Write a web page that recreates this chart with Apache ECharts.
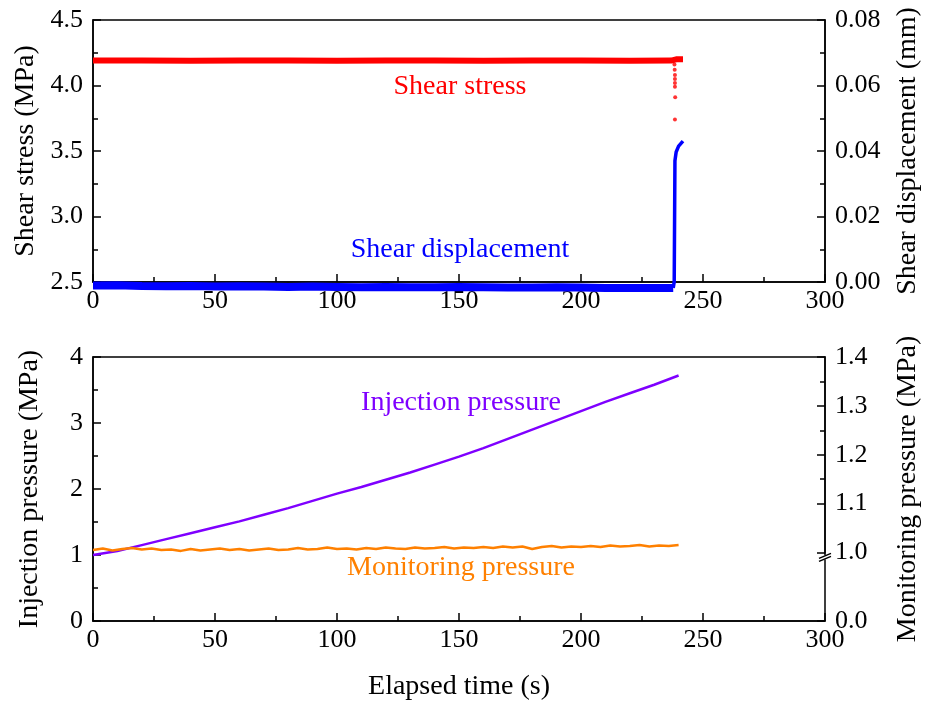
<!DOCTYPE html>
<html>
<head>
<meta charset="utf-8">
<script src="https://cdn.jsdelivr.net/npm/echarts@6/dist/echarts.min.js"></script>
<style>
  html, body { margin: 0; padding: 0; background: #fff; }
  #chart { width: 926px; height: 708px; }
</style>
</head>
<body>
<div id="chart"></div>
<script>
// shear stress (MPa) vs time (s)
var stressTime = [0, 20, 40, 60, 80, 100, 120, 140, 160, 180, 200, 220, 237, 239, 241.8]
var stressVals = [4.19, 4.19, 4.188, 4.19, 4.19, 4.188, 4.19, 4.19, 4.188, 4.19, 4.19, 4.188, 4.19, 4.2, 4.2]
// scattered points during the slip
var dropTime = [238.3, 238.4, 238.5, 238.5, 238.5, 238.5, 238.6, 238.5]
var dropVals = [4.16, 4.12, 4.08, 4.05, 4.02, 3.99, 3.91, 3.74]
// shear displacement (mm), before slip
var dispTime = [0, 10, 20, 30, 40, 50, 60, 70, 80, 90, 100, 110, 120, 130, 140, 150, 160, 170, 180, 190, 200, 210, 220, 230, 237.8]
var dispVals = [-0.0011, -0.0010, -0.0012, -0.0013, -0.0012, -0.0014, -0.0013, -0.0014, -0.0015, -0.0014, -0.0015, -0.0016, -0.0015, -0.0016, -0.0016, -0.0015, -0.0016, -0.0017, -0.0017, -0.0016, -0.0017, -0.0018, -0.0018, -0.0018, -0.0018]
// shear displacement (mm), slip jump
var jumpTime = [237.8, 238.2, 238.5, 239, 240, 241.8]
var jumpVals = [-0.0018, 0.0, 0.037, 0.0397, 0.0415, 0.0430]
// injection pressure (MPa)
var injTime = [0, 10, 20, 30, 40, 50, 60, 70, 80, 90, 100, 110, 120, 130, 140, 150, 160, 170, 180, 190, 200, 210, 220, 230, 240]
var injVals = [1.00, 1.06, 1.15, 1.24, 1.33, 1.42, 1.51, 1.61, 1.71, 1.82, 1.93, 2.03, 2.14, 2.25, 2.37, 2.49, 2.62, 2.76, 2.90, 3.04, 3.18, 3.32, 3.45, 3.58, 3.72]
// monitoring pressure (MPa), every 4 s
var monTime = [0, 4, 8, 12, 16, 20, 24, 28, 32, 36, 40, 44, 48, 52, 56, 60, 64, 68, 72, 76, 80, 84, 88, 92, 96, 100, 104, 108, 112, 116, 120, 124, 128, 132, 136, 140, 144, 148, 152, 156, 160, 164, 168, 172, 176, 180, 184, 188, 192, 196, 200, 204, 208, 212, 216, 220, 224, 228, 232, 236, 240]
var monVals = [1.005, 1.008, 1.004, 1.007, 1.009, 1.006, 1.008, 1.005, 1.006, 1.003, 1.007, 1.004, 1.006, 1.008, 1.005, 1.007, 1.004, 1.006, 1.008, 1.005, 1.006, 1.009, 1.006, 1.007, 1.010, 1.007, 1.008, 1.006, 1.009, 1.007, 1.010, 1.008, 1.007, 1.010, 1.008, 1.009, 1.011, 1.008, 1.010, 1.009, 1.011, 1.009, 1.012, 1.010, 1.012, 1.007, 1.011, 1.013, 1.010, 1.012, 1.011, 1.013, 1.011, 1.014, 1.012, 1.013, 1.015, 1.012, 1.014, 1.013, 1.015]

function pairs(xs, ys) {
  return xs.map(function (x, i) { return [x, ys[i]] })
}

var FONT = 'Liberation Serif'
var RED = '#ff0000', BLUE = '#0000ff', PURPLE = '#7f00ff', ORANGE = '#ff8000'
var TICK = 26, TITLE = 28

var chart = echarts.init(document.getElementById('chart'))

function xAxis(grid) {
  return {
    type: 'value', gridIndex: grid, min: 0, max: 300, interval: 50,
    axisLine: { lineStyle: { color: '#000', width: 1.5 } },
    axisTick: { inside: true, length: 8, lineStyle: { width: 1.5 } },
    minorTick: { show: true, splitNumber: 2, length: 5, lineStyle: { color: '#000', width: 1.5 } },
    splitLine: { show: false },
    axisLabel: { color: '#000', fontFamily: FONT, fontSize: TICK, margin: 6 }
  }
}

function yAxis(grid, pos, min, max, interval, digits, name, gap) {
  return {
    type: 'value', gridIndex: grid, position: pos, min: min, max: max, interval: interval,
    name: name, nameLocation: 'middle', nameGap: gap,
    nameTextStyle: { color: '#000', fontFamily: FONT, fontSize: TITLE },
    axisLine: { show: true, lineStyle: { color: '#000', width: 1.5 } },
    axisTick: { inside: true, length: 8, lineStyle: { width: 1.5 } },
    minorTick: { show: true, splitNumber: 2, length: 5, lineStyle: { color: '#000', width: 1.5 } },
    splitLine: { show: false },
    axisLabel: {
      color: '#000', fontFamily: FONT, fontSize: TICK, margin: 10,
      formatter: function (v) { return v.toFixed(digits) }
    }
  }
}

var monAxis = yAxis(1, 'right', 0, 1.4, 0.1, 1, 'Monitoring pressure (MPa)', 69)
monAxis.breaks = [{ start: 0, end: 1.0, gap: '26%' }]
monAxis.breakArea = { show: false }

function label(id, text, x, y, color) {
  return {
    id: id, type: 'text', x: x, y: y,
    style: { text: text, fill: color, font: TITLE + 'px "Liberation Serif"', align: 'center', verticalAlign: 'middle' }
  }
}

chart.setOption({
  animation: false,
  grid: [
    { left: 93, right: 101, top: 20, height: 262, show: true, borderColor: '#000', borderWidth: 1.5, outerBoundsMode: 'none' },
    { left: 93, right: 101, top: 357, height: 264, show: true, borderColor: '#000', borderWidth: 1.5, outerBoundsMode: 'none' }
  ],
  xAxis: [
    xAxis(0),
    Object.assign(xAxis(1), {
      name: 'Elapsed time (s)', nameLocation: 'middle', nameGap: 52,
      nameTextStyle: { color: '#000', fontFamily: FONT, fontSize: TITLE }
    })
  ],
  yAxis: [
    yAxis(0, 'left', 2.5, 4.5, 0.5, 1, 'Shear stress (MPa)', 42),
    yAxis(0, 'right', 0, 0.08, 0.02, 2, 'Shear displacement (mm)', 69),
    yAxis(1, 'left', 0, 4, 1, 0, 'Injection pressure (MPa)', 49),
    monAxis
  ],
  series: [
    {
      name: 'Shear stress', type: 'line', xAxisIndex: 0, yAxisIndex: 0,
      data: pairs(stressTime, stressVals), showSymbol: false,
      lineStyle: { color: RED, width: 6 }
    },
    {
      name: 'Shear stress drop', type: 'scatter', xAxisIndex: 0, yAxisIndex: 0,
      data: pairs(dropTime, dropVals), symbolSize: 4,
      itemStyle: { color: RED }
    },
    {
      name: 'Shear displacement', type: 'line', xAxisIndex: 0, yAxisIndex: 1,
      data: pairs(dispTime, dispVals), showSymbol: false, clip: false,
      lineStyle: { color: BLUE, width: 8 }
    },
    {
      name: 'Shear displacement jump', type: 'line', xAxisIndex: 0, yAxisIndex: 1,
      data: pairs(jumpTime, jumpVals), showSymbol: false, clip: false,
      lineStyle: { color: BLUE, width: 3.5 }
    },
    {
      name: 'Injection pressure', type: 'line', xAxisIndex: 1, yAxisIndex: 2,
      data: pairs(injTime, injVals), showSymbol: false,
      lineStyle: { color: PURPLE, width: 2.5 }
    },
    {
      name: 'Monitoring pressure', type: 'line', xAxisIndex: 1, yAxisIndex: 3,
      data: pairs(monTime, monVals), showSymbol: false,
      lineStyle: { color: ORANGE, width: 2.5 }
    }
  ]
})

// break mark on the right axis of the lower panel, just below 1.0
var bx = chart.convertToPixel({ xAxisIndex: 1 }, 300)
var by = chart.convertToPixel({ yAxisIndex: 3 }, 1.0) + 5
chart.setOption({
  graphic: [
    label('t1', 'Shear stress', 460, 87, RED),
    label('t2', 'Shear displacement', 460, 250, BLUE),
    label('t3', 'Injection pressure', 461, 403, PURPLE),
    label('t4', 'Monitoring pressure', 461, 568, ORANGE),
    { id: 'b0', type: 'rect', shape: { x: bx - 6, y: by - 2, width: 12, height: 4 }, style: { fill: '#fff' }, z: 100 },
    { id: 'b1', type: 'line', shape: { x1: bx - 6, y1: by + 1, x2: bx + 6, y2: by - 4 }, style: { stroke: '#000', lineWidth: 1.5 }, z: 101 },
    { id: 'b2', type: 'line', shape: { x1: bx - 6, y1: by + 4, x2: bx + 6, y2: by - 1 }, style: { stroke: '#000', lineWidth: 1.5 }, z: 101 }
  ]
})
</script>
</body>
</html>
